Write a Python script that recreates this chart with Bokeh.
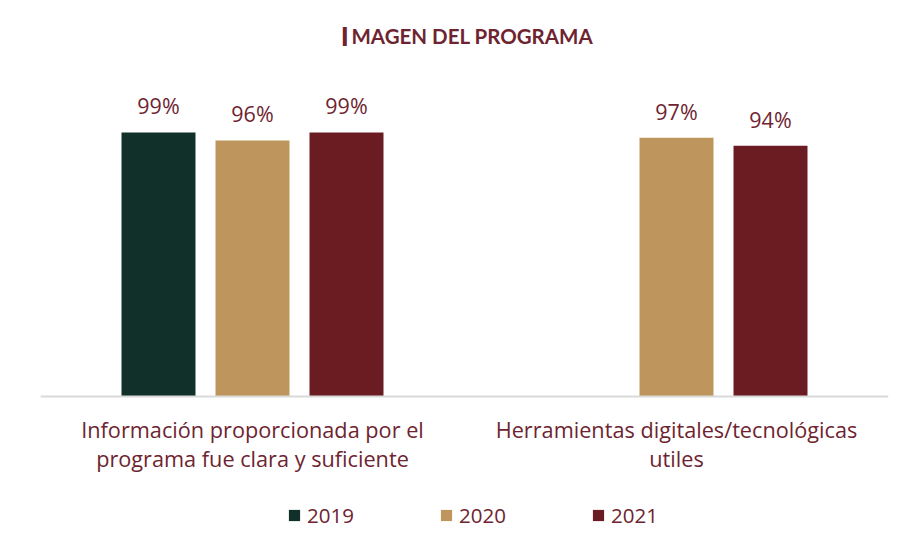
from bokeh.plotting import figure
from bokeh.models import ColumnDataSource, FactorRange, Legend, LegendItem, Span
from bokeh.transform import dodge
from bokeh.core.properties import value
from bokeh.embed import file_html
from bokeh.resources import INLINE

categories = ["Información proporcionada por el\nprograma fue clara y suficiente",
              "Herramientas digitales/tecnológicas\nutiles"]
years = ["2019", "2020", "2021"]
v2019 = [99]
v2020 = [96, 97]
v2021 = [99, 94]
colors = ["#12302A", "#BE955C", "#6A1C22"]
text_color = "#6E2430"
title_cap = "I"
title_rest = "MAGEN DEL PROGRAMA"

p = figure(width=902, height=529, x_range=FactorRange(factors=categories, range_padding=0),
           y_range=(-49.9, 148.5), output_backend="svg", toolbar_location=None,
           min_border_left=40, min_border_right=14, min_border_top=0, min_border_bottom=0)
p.background_fill_color = "white"
p.outline_line_color = None
p.xgrid.visible = False
p.ygrid.visible = False
p.yaxis.visible = False
p.xaxis.visible = False

# baseline (category axis line)
p.add_layout(Span(location=0, dimension="width", line_color="#D9D9D9", line_width=2))

offsets = [-0.2217, 0.0, 0.2217]
bw = 0.1745
series = [(categories[:1], v2019), (categories, v2020), (categories, v2021)]
items = []
for i, (cats, vals) in enumerate(series):
    src = ColumnDataSource(dict(x=cats, top=vals, lbl=[f"{v}%" for v in vals]))
    r = p.vbar(x=dodge("x", offsets[i], range=p.x_range), top="top", width=bw, source=src,
               fill_color=colors[i], line_color=None)
    p.text(x=dodge("x", offsets[i], range=p.x_range), y="top", text="lbl", source=src,
           text_align="center", text_baseline="bottom", y_offset=-12,
           text_font=value("Open Sans"), text_font_size="21.5px", text_color=text_color)
    items.append(LegendItem(label=years[i], renderers=[r]))

# category labels under the baseline
csrc = ColumnDataSource(dict(x=categories, y=[0, 0], t=categories))
p.text(x="x", y="y", text="t", source=csrc, y_offset=19, text_align="center",
       text_baseline="top", text_line_height=1.0,
       text_font=value("Open Sans"), text_font_size="21.7px", text_color=text_color)

# title (small caps imitation)
p.text(x=[0.7075], y=[135], text=[title_cap], text_align="left", text_baseline="alphabetic",
       text_font=value("Open Sans"), text_font_size="26px", text_font_style="bold", text_color=text_color)
p.text(x=[0.7075], y=[135], text=[title_rest], x_offset=11, text_align="left",
       text_baseline="alphabetic", text_font=value("Lato"), text_font_size="20.5px",
       text_font_style="bold", text_color=text_color)

legend = Legend(items=items, orientation="horizontal", location=(247, 0),
                glyph_width=14, glyph_height=14, label_standoff=6, label_width=48, spacing=84,
                label_text_font="Open Sans", label_text_font_size="20.5px", label_text_color=text_color,
                border_line_color=None, background_fill_alpha=0, padding=0, margin=0)
p.add_layout(legend)

open("out.html", "w").write(file_html(p, INLINE))
